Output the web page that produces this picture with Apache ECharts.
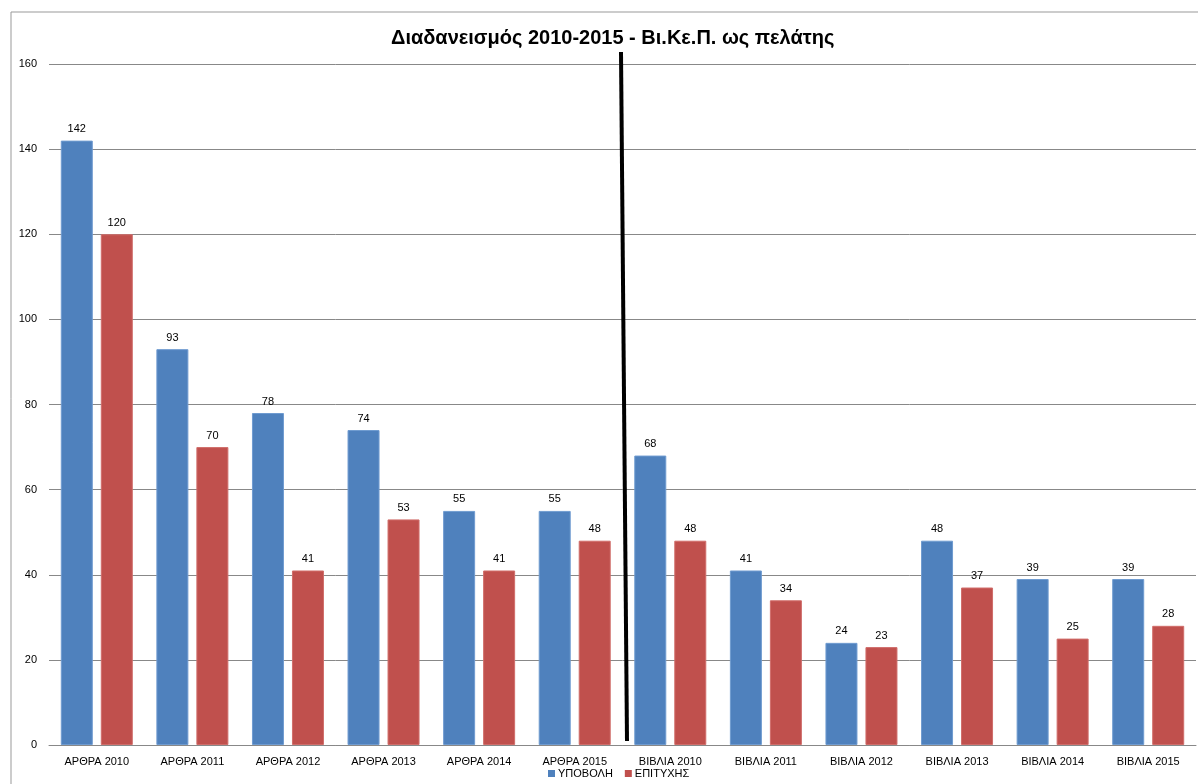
<!DOCTYPE html>
<html>
<head>
<meta charset="utf-8">
<script src="https://cdn.jsdelivr.net/npm/echarts@6/dist/echarts.min.js"></script>
<style>
html,body{margin:0;padding:0;background:#fff;}
#chart{width:1198px;height:784px;}
</style>
</head>
<body>
<div id="chart"></div>
<script>
const categories = ['ΑΡΘΡΑ 2010','ΑΡΘΡΑ 2011','ΑΡΘΡΑ 2012','ΑΡΘΡΑ 2013','ΑΡΘΡΑ 2014','ΑΡΘΡΑ 2015','ΒΙΒΛΙΑ 2010','ΒΙΒΛΙΑ 2011','ΒΙΒΛΙΑ 2012','ΒΙΒΛΙΑ 2013','ΒΙΒΛΙΑ 2014','ΒΙΒΛΙΑ 2015'];
const submitted = [142, 93, 78, 74, 55, 55, 68, 41, 24, 48, 39, 39];
const succeeded = [120, 70, 41, 53, 41, 48, 48, 34, 23, 37, 25, 28];
const seriesNames = ['ΥΠΟΒΟΛΗ', 'ΕΠΙΤΥΧΗΣ'];
const titleText = 'Διαδανεισμός 2010-2015 - Βι.Κε.Π. ως πελάτης';

const chart = echarts.init(document.getElementById('chart'), null, {renderer: 'canvas'});
const font = 'Liberation Sans, Arial, sans-serif';
const labelCfg = {show: true, position: 'top', color: '#000', fontSize: 11, fontFamily: font, distance: 6};
chart.setOption({
  animation: false,
  backgroundColor: '#fff',
  title: {
    text: titleText, left: 386, top: 23,
    textStyle: {fontFamily: font, fontSize: 20, fontWeight: 'bold', color: '#000'}
  },
  legend: {
    bottom: 0, left: 543, itemWidth: 7, itemHeight: 7, itemGap: 12, icon: 'rect',
    itemStyle: {borderWidth: 0},
    textStyle: {fontFamily: font, fontSize: 11, color: '#000', padding: [0, 0, 0, -2]},
    data: seriesNames
  },
  grid: {left: 49, right: 2, top: 64, bottom: 39, containLabel: false},
  xAxis: {
    type: 'category', data: categories,
    axisLine: {show: true, lineStyle: {color: '#888', width: 1}},
    axisTick: {show: false},
    axisLabel: {color: '#000', fontFamily: font, fontSize: 11, margin: 11, interval: 0}
  },
  yAxis: {
    type: 'value', min: 0, max: 160, interval: 20,
    axisLine: {show: false}, axisTick: {show: false},
    axisLabel: {color: '#000', fontFamily: font, fontSize: 11, margin: 12},
    splitLine: {lineStyle: {color: '#888', width: 1}}
  },
  graphic: [
    {type: 'rect', shape: {x: 11, y: 12, width: 1300, height: 900}, style: {fill: 'none', stroke: '#999', lineWidth: 1}, z: 100},
    {type: 'line', shape: {x1: 621, y1: 52, x2: 627, y2: 741}, style: {stroke: '#000', lineWidth: 4}, z: 100}
  ],
  series: [
    {name: seriesNames[0], type: 'bar', data: submitted, barWidth: 32, barGap: '25%',
     itemStyle: {color: '#4F81BD', borderColor: '#6f9bd0', borderWidth: 1}, label: labelCfg},
    {name: seriesNames[1], type: 'bar', data: succeeded, barWidth: 32,
     itemStyle: {color: '#C0504D', borderColor: '#d06d6a', borderWidth: 1}, label: labelCfg}
  ]
});
</script>
</body>
</html>
